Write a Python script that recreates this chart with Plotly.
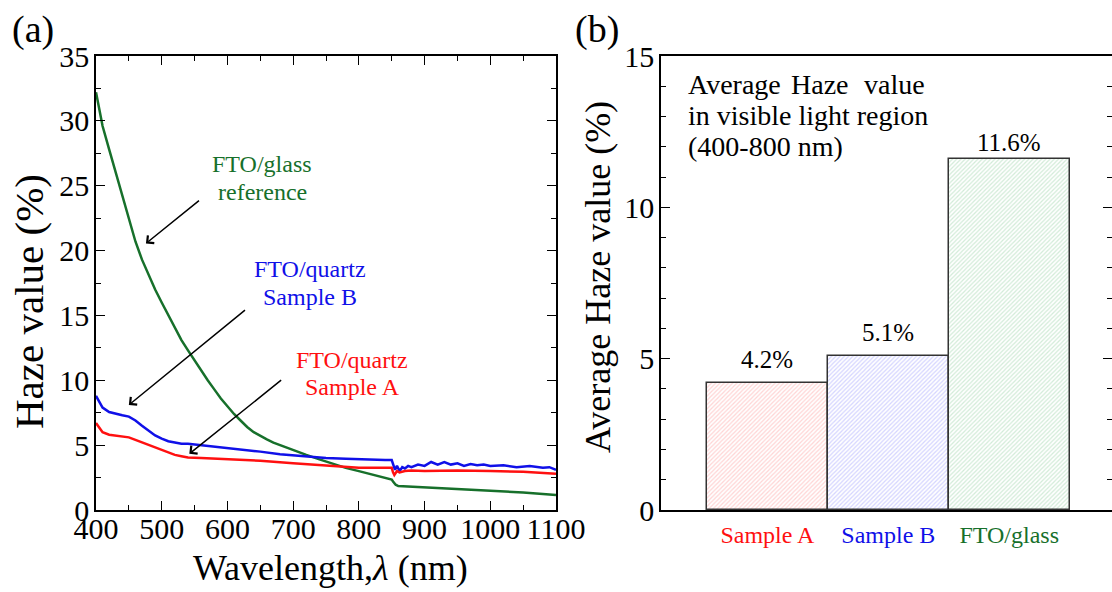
import plotly.graph_objects as go

# ---------------- data ----------------
wl_glass = [400, 405, 410, 420, 430, 440, 450, 460, 470, 480, 490, 500, 510, 520, 530, 540, 550, 560, 570,
            580, 590, 600, 610, 620, 630, 640, 650, 660, 670, 680, 690, 700, 720, 740, 760, 780, 800, 820,
            840, 850, 852, 856, 860, 880, 900, 950, 1000, 1050, 1100]
haze_glass = [32.2, 31.0, 29.6, 27.8, 26.0, 24.2, 22.4, 20.7, 19.3, 18.1, 17.0, 16.0, 15.0, 14.0, 13.1, 12.3,
              11.5, 10.7, 10.0, 9.3, 8.6, 8.0, 7.4, 6.9, 6.4, 6.0, 5.7, 5.45, 5.2, 5.0, 4.8, 4.6, 4.25, 3.9,
              3.55, 3.25, 3.0, 2.75, 2.5, 2.35, 2.2, 1.95, 1.85, 1.8, 1.75, 1.6, 1.5, 1.35, 1.15]

wl_b = [400, 405, 410, 420, 430, 440, 450, 460, 470, 480, 490, 500, 510, 520, 530, 540, 560, 580, 600, 620,
        650, 680, 700, 720, 750, 780, 800, 820, 840, 850, 852, 855, 858, 862, 866, 870, 875, 880, 890, 900,
        910, 920, 930, 940, 950, 960, 970, 980, 990, 1000, 1020, 1040, 1060, 1080, 1090, 1100]
haze_b = [8.8, 8.3, 7.9, 7.55, 7.4, 7.3, 7.2, 6.9, 6.5, 6.1, 5.75, 5.5, 5.3, 5.2, 5.1, 5.1, 5.0, 4.85, 4.75,
          4.65, 4.5, 4.3, 4.2, 4.1, 4.0, 3.95, 3.9, 3.9, 3.85, 3.85, 3.6, 3.1, 3.4, 3.0, 3.3, 3.2, 3.4, 3.3,
          3.5, 3.4, 3.7, 3.5, 3.7, 3.5, 3.6, 3.4, 3.55, 3.45, 3.5, 3.4, 3.45, 3.3, 3.4, 3.25, 3.3, 3.1]

wl_a = [400, 405, 410, 420, 430, 440, 450, 460, 470, 480, 490, 500, 510, 520, 530, 540, 560, 580, 600, 650,
        700, 750, 780, 800, 820, 840, 850, 852, 854, 858, 862, 870, 880, 900, 950, 1000, 1050, 1100]
haze_a = [6.7, 6.3, 6.0, 5.8, 5.75, 5.7, 5.6, 5.4, 5.2, 5.0, 4.8, 4.6, 4.4, 4.25, 4.15, 4.05, 4.0, 3.95, 3.9,
          3.8, 3.6, 3.4, 3.3, 3.25, 3.25, 3.25, 3.25, 2.9, 2.7, 3.0, 2.9, 3.0, 3.05, 3.0, 3.05, 3.0, 2.95, 2.8]

bar_cats = ["Sample A", "Sample B", "FTO/glass"]
bar_vals = [4.2, 5.1, 11.6]
bar_text = ["4.2%", "5.1%", "11.6%"]

FONT = "Liberation Serif, Times New Roman, serif"
GREEN = "#17702b"
BLUE = "#1010e8"
RED = "#ff1010"

W, H = 1112, 592
def px_x(p):
    return p / W
def px_y(p):
    return 1 - p / H

fig = go.Figure()

fig.add_trace(go.Scatter(x=wl_glass, y=haze_glass, mode="lines", line=dict(color=GREEN, width=2.5),
                         xaxis="x", yaxis="y", showlegend=False))
fig.add_trace(go.Scatter(x=wl_b, y=haze_b, mode="lines", line=dict(color=BLUE, width=2.5),
                         xaxis="x", yaxis="y", showlegend=False))
fig.add_trace(go.Scatter(x=wl_a, y=haze_a, mode="lines", line=dict(color=RED, width=2.5),
                         xaxis="x", yaxis="y", showlegend=False))

bar_bg = ["#ffd4d4", "#d4d4ff", "#d2ebd8"]
bar_fg = ["#ff9a9a", "#9a9aff", "#96caa2"]
bar_x = [1, 2, 3]
fig.add_trace(go.Bar(x=bar_x, y=bar_vals, width=1.0,
                     marker=dict(color=bar_bg, line=dict(color="#333", width=1.5),
                                 pattern=dict(shape="/", fgcolor=bar_fg, bgcolor=bar_bg, size=3, solidity=0.4)),
                     xaxis="x2", yaxis="y2", showlegend=False))

tickfont = dict(family=FONT, size=30, color="black")
axis_common = dict(showline=True, linecolor="black", linewidth=1.5, ticks="inside", tickcolor="black",
                   tickwidth=1.2, showgrid=False, zeroline=False, mirror="allticks", tickfont=tickfont,
                   automargin=False)

ydom = [px_y(510), px_y(56)]
fig.update_layout(
    template="none",
    width=W, height=H, margin=dict(l=0, r=0, t=0, b=0, autoexpand=False),
    paper_bgcolor="white", plot_bgcolor="white", bargap=0,
    xaxis=dict(domain=[px_x(96), px_x(556)], range=[400, 1100], dtick=100, tick0=400, ticklen=9,
               minor=dict(dtick=50, ticks="inside", ticklen=5, tickcolor="black"),
               anchor="y", ticklabelstandoff=-9, **axis_common),
    yaxis=dict(domain=ydom, range=[0, 35], dtick=5, ticklen=9,
               minor=dict(dtick=2.5, ticks="inside", ticklen=5, tickcolor="black"),
               anchor="x", ticklabelstandoff=-1, **axis_common),
    xaxis2=dict(domain=[px_x(661), 1.0], range=[0.12, 3.85], showline=True, linecolor="black", linewidth=1.5,
                mirror=True, ticks="", showgrid=False, zeroline=False, anchor="y2", automargin=False,
                tickvals=bar_x,
                ticktext=[f"<span style='color:{RED}'>{bar_cats[0]}</span>",
                          f"<span style='color:{BLUE}'>{bar_cats[1]}</span>",
                          f"<span style='color:{GREEN}'>{bar_cats[2]}</span>"],
                tickfont=dict(family=FONT, size=24), ticklabelstandoff=2),
    yaxis2=dict(domain=ydom, range=[0, 15], dtick=5, ticklen=9,
                minor=dict(dtick=1, ticks="inside", ticklen=5, tickcolor="black"),
                anchor="x2", ticklabelstandoff=-1, **axis_common),
)

ann = []
# bar value labels
label_shift = [8, 8, 1]
for bx, bv, bt, sh in zip(bar_x, bar_vals, bar_text, label_shift):
    ann.append(dict(text=bt, x=bx, y=bv, xref="x2", yref="y2", xanchor="center", yanchor="bottom", yshift=sh,
                    showarrow=False, font=dict(family=FONT, size=25, color="black")))

def paper_text(text, x, y, size, angle=0, xanchor="center"):
    return dict(text=text, x=px_x(x), y=px_y(y), xref="paper", yref="paper", xanchor=xanchor,
                yanchor="middle", showarrow=False, textangle=angle,
                font=dict(family=FONT, size=size, color="black"))

ann.append(paper_text("(a)", 33, 29, 38))
ann.append(paper_text("(b)", 597, 29, 38))
ann.append(paper_text("Haze value (%)", 29, 302, 41, -90))
ann.append(paper_text("Wavelength,<i>λ</i> (nm)", 330, 568, 36))
ann.append(paper_text("Average Haze value (%)", 598, 277, 36, -90))

# curve labels (one annotation per line)
curve_labels = [("FTO/glass", 653, 26.65, GREEN), ("reference", 653, 24.5, GREEN),
                ("FTO/quartz", 725, 18.55, BLUE), ("Sample B", 725, 16.4, BLUE),
                ("FTO/quartz", 790, 11.6, RED), ("Sample A", 790, 9.45, RED)]
for txt, x, y, c in curve_labels:
    ann.append(dict(text=txt, x=x, y=y, xref="x", yref="y", xanchor="center", yanchor="middle",
                    showarrow=False, font=dict(family=FONT, size=24, color=c)))
# arrows (head, tail)
arrows = [((476, 20.55), (559, 23.95)), ((450, 8.1), (629, 15.5)), ((542, 4.33), (684, 10.1))]
for (hx, hy), (tx, ty) in arrows:
    ann.append(dict(text="", x=hx, y=hy, ax=tx, ay=ty, xref="x", yref="y", axref="x", ayref="y",
                    showarrow=True, arrowhead=4, arrowsize=1.3, arrowwidth=1.5, arrowcolor="black"))
# panel b note (first line justified)
note_font = 28
ann.append(paper_text("Average", 686, 84, note_font, xanchor="left"))
ann.append(paper_text("Haze", 820, 84, note_font))
ann.append(paper_text("value", 927, 84, note_font, xanchor="right"))
ann.append(paper_text("in visible light region", 686, 115, note_font, xanchor="left"))
ann.append(paper_text("(400-800 nm)", 686, 146, note_font, xanchor="left"))

fig.update_layout(annotations=ann)
fig.write_html("out.html")
